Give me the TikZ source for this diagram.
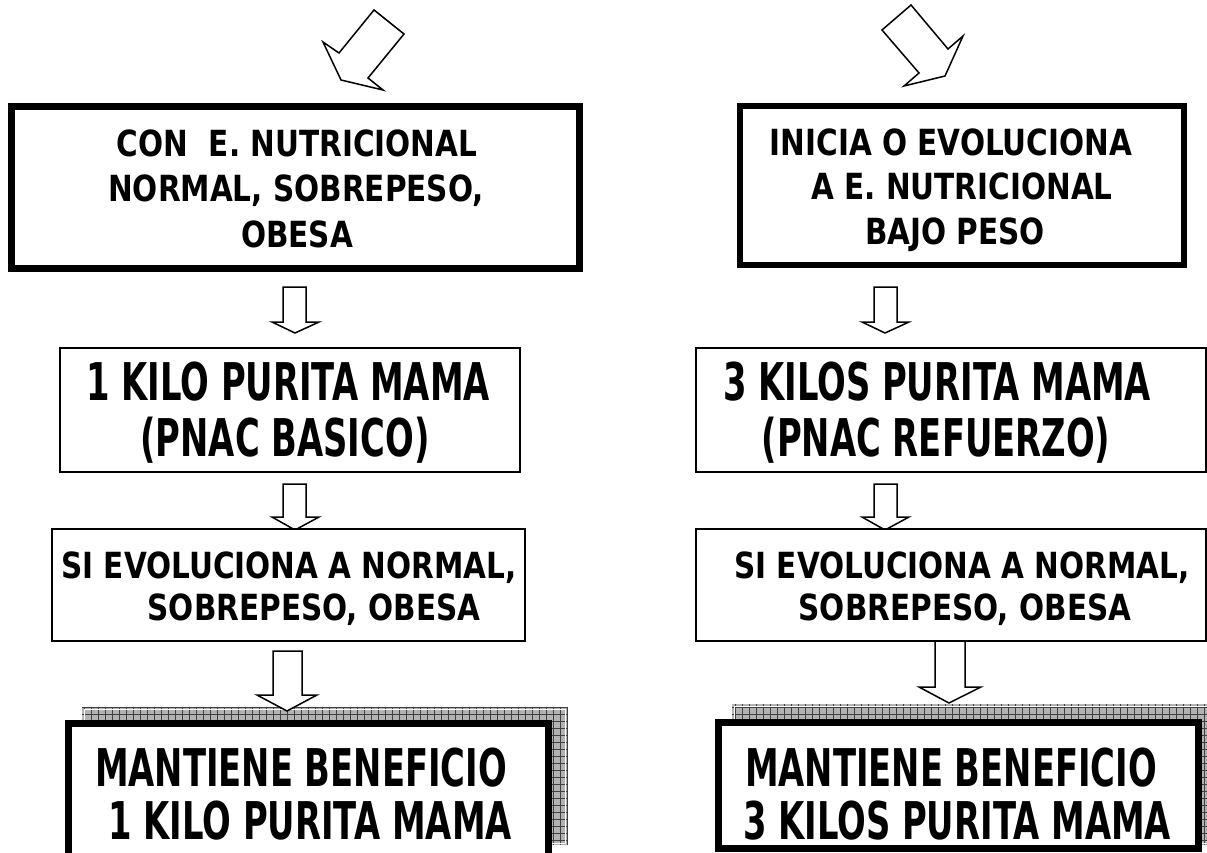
\documentclass[tikz,border=0pt]{standalone}
\usepackage{fontspec}
\newfontfamily\sfA[FakeStretch=0.82]{DejaVu Sans}
\newfontfamily\sfB[FakeStretch=0.65]{DejaVu Sans}
\begin{document}
\begin{tikzpicture}[x=1pt,y=-1pt,
  thickbox/.style={draw=black, line width=6.5pt, fill=white, inner sep=0pt},
  thinbox/.style={draw=black, line width=1.6pt, fill=white, inner sep=0pt},
  blockarrow/.style={draw=black, line width=1.5pt, fill=white, line join=miter},
  shadowbox/.style={fill=gray!60},
  txts/.style={font=\sfA\bfseries\fontsize{36}{45}\selectfont, inner sep=0pt, anchor=base, text depth=0pt},
  txtb/.style={font=\sfB\bfseries\fontsize{52}{56}\selectfont, inner sep=0pt, anchor=base, text depth=0pt},
]
\clip (0,0) rectangle (1207,852);
\fill[white] (0,0) rectangle (1207,852);

% top block arrows
\draw[blockarrow] (374,10) -- (404,34) -- (368,78) -- (383,90) -- (341,80) -- (323,42) -- (339,53) -- cycle;
\draw[blockarrow] (911,5) -- (948,49) -- (963,36) -- (945,76) -- (904,86) -- (919,73) -- (882,30) -- cycle;

% first boxes
\node[thickbox, minimum width=568pt, minimum height=162pt] (l1) at (295.5,187.5) {};
\node[thickbox, minimum width=444pt, minimum height=159pt] (r1) at (962,185.5) {};
\node[txts] (l1a) at (297,156) {CON\ \ E. NUTRICIONAL};
\node[txts] (l1b) at (296,201) {NORMAL, SOBREPESO,};
\node[txts] (l1c) at (297,247) {OBESA};
\node[txts] (r1a) at (951,155) {INICIA O EVOLUCIONA};
\node[txts] (r1b) at (962,199) {A E. NUTRICIONAL};
\node[txts] (r1c) at (955,244) {BAJO PESO};

% small arrows 1
\draw[blockarrow] (283,287) -- (306,287) -- (306,322) -- (319,322) -- (295,333) -- (272,322) -- (283,322) -- cycle;
\draw[blockarrow] (874,287) -- (897,287) -- (897,322) -- (909,322) -- (885,333) -- (862,322) -- (874,322) -- cycle;

% second boxes
\node[thinbox, minimum width=460pt, minimum height=124pt] (l2) at (290,410) {};
\node[thinbox, minimum width=510pt, minimum height=124pt] (r2) at (951,410) {};
\node[txtb] (l2a) at (288,400) {1 KILO PURITA MAMA};
\node[txtb] (l2b) at (285,456) {(PNAC BASICO)};
\node[txtb] (r2a) at (937,400) {3 KILOS PURITA MAMA};
\node[txtb] (r2b) at (936,456) {(PNAC REFUERZO)};

% small arrows 2
\draw[blockarrow] (283,484) -- (306,484) -- (306,517) -- (319,517) -- (295,530) -- (272,517) -- (283,517) -- cycle;
\draw[blockarrow] (874,484) -- (897,484) -- (897,517) -- (909,517) -- (885,530) -- (862,517) -- (874,517) -- cycle;

% third boxes
\node[thinbox, minimum width=473pt, minimum height=112pt] (l3) at (288.5,585) {};
\node[thinbox, minimum width=510pt, minimum height=112pt] (r3) at (951,585) {};
\node[txts] (l3a) at (289,578) {SI EVOLUCIONA A NORMAL,};
\node[txts] (l3b) at (314,620) {SOBREPESO, OBESA};
\node[txts] (r3a) at (962,578) {SI EVOLUCIONA A NORMAL,};
\node[txts] (r3b) at (965,620) {SOBREPESO, OBESA};

% shadows
\fill[shadowbox] (82,707) rectangle (567,845);
\draw[black!75, line width=0.5pt, step=7pt] (82,707) grid (567,845);
\draw[white, line width=0.8pt] (84,709) rectangle (565,843);
\fill[shadowbox] (732,704) rectangle (1215,845);
\draw[black!75, line width=0.5pt, step=7pt] (732,704) grid (1215,845);
\draw[white, line width=0.8pt] (734,706) rectangle (1213,843);

% big arrows 3
\draw[blockarrow] (273,651) -- (302,651) -- (302,695) -- (317,695) -- (287,711) -- (257,695) -- (273,695) -- cycle;
\draw[blockarrow] (935,641) -- (965,641) -- (965,687) -- (981,687) -- (949,703) -- (919,687) -- (935,687) -- cycle;

% final boxes
\node[thickbox, minimum width=480pt, minimum height=150pt] (l4) at (308.5,798.5) {};
\node[thickbox, minimum width=480pt, minimum height=126pt] (r4) at (958.5,785.5) {};
\node[txtb] (l4a) at (301,786) {MANTIENE BENEFICIO};
\node[txtb] (l4b) at (310,839) {1 KILO PURITA MAMA};
\node[txtb] (r4a) at (951,786) {MANTIENE BENEFICIO};
\node[txtb] (r4b) at (957,839) {3 KILOS PURITA MAMA};
\end{tikzpicture}
\end{document}
